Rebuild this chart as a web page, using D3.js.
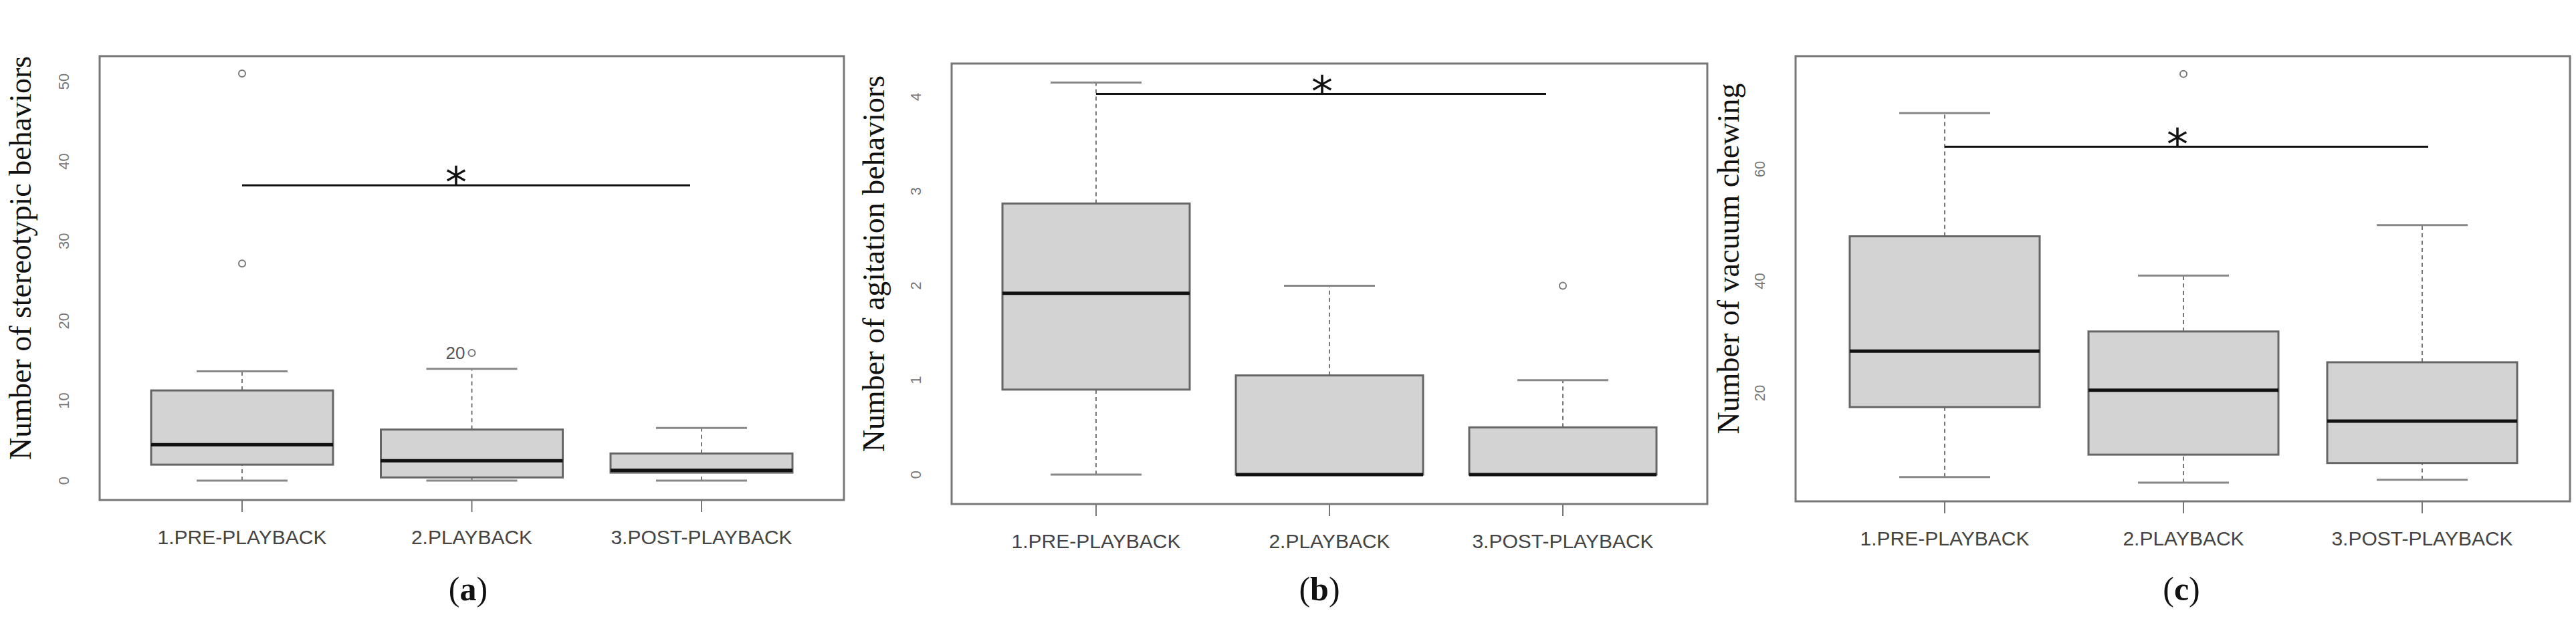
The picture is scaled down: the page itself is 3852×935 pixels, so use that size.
<!DOCTYPE html>
<html>
<head>
<script src="https://cdn.jsdelivr.net/npm/d3@7"></script>
<style>
  body { margin: 0; background: #fff; }
  .cat { font-family: "Liberation Sans Narrow", "Liberation Sans", sans-serif; font-size: 30px; fill: #444; }
  .tick { font-family: "Liberation Sans", sans-serif; font-size: 22px; fill: #777; }
  .ylab { font-family: "Liberation Serif", serif; font-size: 46px; fill: #111; }
  .panel { font-family: "Liberation Serif", serif; font-size: 50px; fill: #111; }
</style>
</head>
<body>
<svg id="canvas" width="3852" height="935"></svg>
<script>
  const groups = ['1.PRE-PLAYBACK', '2.PLAYBACK', '3.POST-PLAYBACK'];

  // [whiskerLow, q1, median, q3, whiskerHigh]
  const stereoStats = [[0, 2, 4.5, 11.3, 13.7], [0, 0.4, 2.5, 6.4, 14], [0, 1, 1.3, 3.4, 6.6]];
  const stereoOutliers = [[27.2, 51], [16], []];
  const stereoTicks = [0, 10, 20, 30, 40, 50];

  const agitStats = [[0, 0.9, 1.92, 2.87, 4.15], [0, 0, 0, 1.05, 2], [0, 0, 0, 0.5, 1]];
  const agitOutliers = [[], [], [2]];
  const agitTicks = [0, 1, 2, 3, 4];

  const chewStats = [[5, 17.5, 27.5, 48, 70], [4, 9, 20.5, 31, 41], [4.5, 7.5, 15, 25.5, 50]];
  const chewOutliers = [[], [77], []];
  const chewTicks = [20, 40, 60];

  const svg = d3.select('#canvas');

  function panel(o) {
    const g = svg.append('g');
    const y = d3.scaleLinear().domain(o.domain).range([o.bottom, o.top]);
    const x = d3.scalePoint().domain(groups).range(o.cx);

    g.append('rect').attr('x', o.left).attr('y', o.top)
      .attr('width', o.right - o.left).attr('height', o.bottom - o.top)
      .attr('fill', 'none').attr('stroke', '#777').attr('stroke-width', 3);

    // y tick labels (rotated, as in R)
    o.ticks.forEach(t => {
      g.append('text').attr('class', 'tick')
        .attr('transform', `translate(${o.left - 46},${y(t)}) rotate(-90)`)
        .attr('text-anchor', 'middle').text(t);
    });

    groups.forEach((c, i) => {
      const cx = x(c), s = o.stats[i], hw = o.hw, cw = 68;
      g.append('line').attr('x1', cx).attr('x2', cx).attr('y1', o.bottom).attr('y2', o.bottom + 18)
        .attr('stroke', '#777').attr('stroke-width', 2);
      g.append('text').attr('class', 'cat').attr('x', cx).attr('y', o.bottom + 66)
        .attr('text-anchor', 'middle').text(c);
      [[s[0], s[1]], [s[3], s[4]]].forEach(([a, b]) => {
        g.append('line').attr('x1', cx).attr('x2', cx).attr('y1', y(a)).attr('y2', y(b))
          .attr('stroke', '#777').attr('stroke-width', 2).attr('stroke-dasharray', '6,5');
      });
      [s[0], s[4]].forEach(v => {
        g.append('line').attr('x1', cx - cw).attr('x2', cx + cw).attr('y1', y(v)).attr('y2', y(v))
          .attr('stroke', '#888').attr('stroke-width', 3);
      });
      g.append('rect').attr('x', cx - hw).attr('width', hw * 2)
        .attr('y', y(s[3])).attr('height', y(s[1]) - y(s[3]))
        .attr('fill', '#d3d3d3').attr('stroke', '#666').attr('stroke-width', 3);
      g.append('line').attr('x1', cx - hw).attr('x2', cx + hw).attr('y1', y(s[2])).attr('y2', y(s[2]))
        .attr('stroke', '#111').attr('stroke-width', 5);
      o.outliers[i].forEach(v => {
        g.append('circle').attr('cx', cx).attr('cy', y(v)).attr('r', 5)
          .attr('fill', 'none').attr('stroke', '#777').attr('stroke-width', 2);
      });
    });

    if (o.note) {
      const [gi, v, txt] = o.note;
      g.append('text').attr('class', 'tick').attr('x', x(groups[gi]) - 10).attr('y', y(v) + 9)
        .attr('text-anchor', 'end').style('font-size', '26px').style('fill', '#555').text(txt);
    }

    // significance bar
    g.append('line').attr('x1', o.cx[0]).attr('x2', o.sigEnd).attr('y1', y(o.sig)).attr('y2', y(o.sig))
      .attr('stroke', '#111').attr('stroke-width', 3);
    g.append('text').attr('x', o.starX).attr('y', y(o.sig) + 18)
      .attr('text-anchor', 'middle').style('font-family', 'DejaVu Sans, sans-serif')
      .style('font-size', '64px').attr('fill', '#111').text('*');

    g.append('text').attr('class', 'ylab')
      .attr('transform', `translate(${o.ylabX},${(o.top + o.bottom) / 2 - 30}) rotate(-90)`)
      .attr('text-anchor', 'middle').text(o.ylabel);
    g.append('text').attr('class', 'panel').attr('x', o.tagX).attr('y', 898)
      .attr('text-anchor', 'middle').html(o.tag);
  }

  // panel a: y0 at 719, 50 at 122
  panel({ left: 149, right: 1262, top: 84, bottom: 748, cx: [362, 1049], hw: 136,
    domain: [(719 - 748) / 11.94, (719 - 84) / 11.94],
    stats: stereoStats, outliers: stereoOutliers, ticks: stereoTicks,
    sig: 37, sigEnd: 1032, starX: 682, note: [1, 16, '20'],
    ylabX: 46, ylabel: 'Number of stereotypic behaviors', tagX: 700,
    tag: '(<tspan font-weight="bold">a</tspan>)' });

  // panel b: y0 at 710, 4 at 145
  panel({ left: 1423, right: 2553, top: 95, bottom: 754, cx: [1639, 2337], hw: 140,
    domain: [(710 - 754) / 141.3, (710 - 95) / 141.3],
    stats: agitStats, outliers: agitOutliers, ticks: agitTicks,
    sig: 4.03, sigEnd: 2312, starX: 1977,
    ylabX: 1322, ylabel: 'Number of agitation behaviors', tagX: 1973,
    tag: '(<tspan font-weight="bold">b</tspan>)' });

  // panel c: y0 at 755.5, per unit 8.375
  panel({ left: 2685, right: 3843, top: 84, bottom: 750, cx: [2908, 3622], hw: 142,
    domain: [(755.5 - 750) / 8.375, (755.5 - 84) / 8.375],
    stats: chewStats, outliers: chewOutliers, ticks: chewTicks,
    sig: 64, sigEnd: 3631, starX: 3256,
    ylabX: 2600, ylabel: 'Number of vacuum chewing', tagX: 3262,
    tag: '(<tspan font-weight="bold">c</tspan>)' });
</script>
</body>
</html>
